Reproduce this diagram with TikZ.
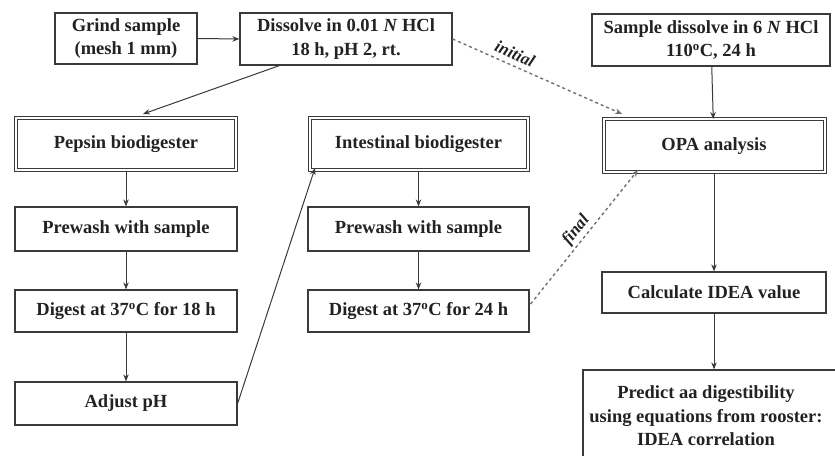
\documentclass[tikz,border=0pt]{standalone}
\usepackage{fontspec}
\setmainfont{Liberation Serif}
\usetikzlibrary{arrows.meta,calc}
\definecolor{ink}{HTML}{222222}
\definecolor{edge}{HTML}{3A3A3A}
\definecolor{dashc}{HTML}{707070}
\begin{document}
\begin{tikzpicture}[x=1bp,y=-1bp,
  every node/.style={font=\fontsize{18.5bp}{23.5bp}\selectfont\bfseries, text=ink, inner sep=0pt, align=center},
  box/.style={draw=edge, line width=1.2bp, minimum width=#1},
  dbox/.style={draw=edge, line width=1bp, double=white, double distance=2bp, minimum width=#1},
  arr/.style={draw=edge, line width=1bp, -{Stealth[length=7bp,width=5.5bp]}},
  darr/.style={draw=dashc, line width=1.4bp, dash pattern=on 3bp off 3bp, -{Stealth[length=7bp,width=5.5bp]}},
  lbl/.style={font=\fontsize{17bp}{19bp}\selectfont\bfseries\itshape, text=ink}
]
\useasboundingbox (0,0) rectangle (835,456);
\fill[white] (0,0) rectangle (835,456);

% top row
\node[box=142bp, minimum height=51bp] (grind) at (126,38.5) {Grind sample\\(mesh 1 mm)};
\node[box=212bp, minimum height=52bp] (dissolve) at (346,39) {Dissolve in 0.01 \textit{N} HCl\\18 h, pH 2, rt.};
\node[box=238bp, minimum height=52bp] (sample) at (711,40) {Sample dissolve in 6 \textit{N} HCl\\110\textsuperscript{o}C, 24 h};

% left column
\node[dbox=219bp, minimum height=52bp] (pepsin) at (126,144.5) {Pepsin biodigester};
\node[box=222bp, minimum height=44bp] (prew1) at (126,229) {Prewash with sample};
\node[box=222bp, minimum height=42bp] (dig1) at (126,311) {Digest at 37\textsuperscript{o}C for 18 h};
\node[box=222bp, minimum height=43bp] (adjust) at (126,403.5) {Adjust pH};

% middle column
\node[dbox=218bp, minimum height=52bp] (intest) at (418.5,144.5) {Intestinal biodigester};
\node[box=221bp, minimum height=44bp] (prew2) at (418.5,229) {Prewash with sample};
\node[box=221bp, minimum height=42bp] (dig2) at (418.5,311) {Digest at 37\textsuperscript{o}C for 24 h};

% right column
\node[dbox=221bp, minimum height=53bp] (opa) at (714,146) {OPA analysis};
\node[box=224bp, minimum height=41bp] (calc) at (714,292.5) {Calculate IDEA value};
\node[box=262bp, minimum height=110bp] (predict) at (714,425) {};
\node (predtext) at (706,416) {Predict aa digestibility\\using equations from rooster:\\IDEA correlation};

% connectors
\draw[arr] (grind.east) -- (dissolve.west);
\draw[arr] ($(dissolve.south west)+(40,0)$) -- ($(pepsin.north)+(17,-4)$);
\draw[arr] (pepsin) -- (prew1);
\draw[arr] (prew1) -- (dig1);
\draw[arr] (dig1) -- (adjust);
\draw[arr] (adjust.east) -- ($(intest.south west)+(6,-3)$);
\draw[arr] (intest) -- (prew2);
\draw[arr] (prew2) -- (dig2);
\draw[arr] (sample) -- (opa);
\draw[arr] (opa) -- (calc);
\draw[arr] (calc) -- (predict);
\draw[darr] (dissolve.east) -- node[lbl, above, sloped, pos=0.34, yshift=5bp] {initial} ($(opa.north west)+(19,-5)$);
\draw[darr] ($(dig2.east)+(1,-7)$) -- node[lbl, above, sloped, pos=0.5, yshift=2bp] {final} ($(opa.south west)+(35,-3)$);
\end{tikzpicture}
\end{document}
